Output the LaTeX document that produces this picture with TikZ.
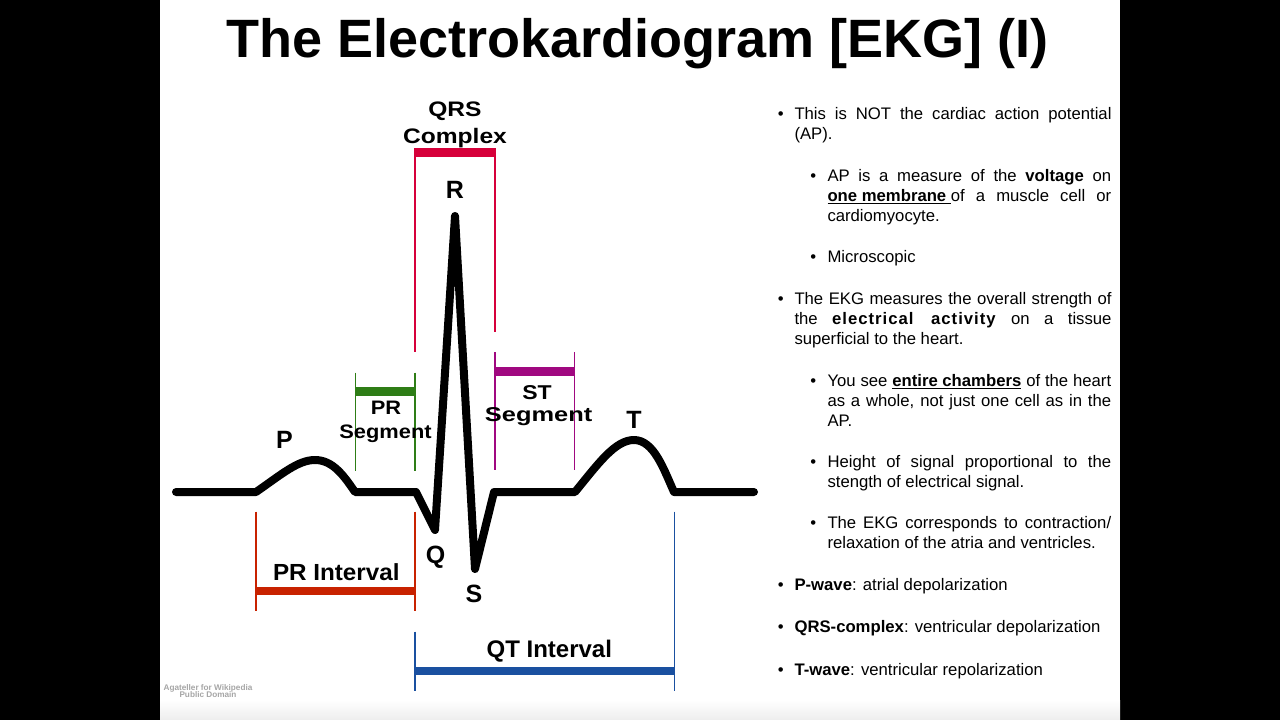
\documentclass[tikz,border=0pt]{standalone}
\usepackage{fontspec}
\setmainfont{Liberation Sans}
\usepackage{graphicx}
\definecolor{qrsred}{HTML}{D6003A}
\definecolor{stpurple}{HTML}{A00880}
\definecolor{prgreen}{HTML}{2E7D16}
\definecolor{prred}{HTML}{C82200}
\definecolor{qtblue}{HTML}{1A50A0}
\newcommand\J[2]{\makebox[#1pt][s]{#2}}
\newcommand\ul[1]{\setbox0\hbox{#1}\rlap{\rule[-2.6pt]{\wd0}{1.3pt}}\box0\relax}
\newcommand\sx[2]{\scalebox{#1}[1]{#2}}
\begin{document}
\begin{tikzpicture}[x=1pt,y=-1pt,
  ecg/.style={line width=8pt, line cap=round, line join=round},
  barline/.style={line width=8.5pt},
  tickline/.style={line width=1.3pt},
  lbl/.style={anchor=base, inner sep=0pt},
  txt/.style={anchor=base west, inner sep=0pt, font=\fontsize{16.7}{20}\selectfont},
  bul/.style={anchor=base, inner sep=0pt, font=\fontsize{16.7}{20}\selectfont},
]
\useasboundingbox (0,0) rectangle (1280,720);
\fill[black] (0,0) rectangle (1280,720);
\fill[white] (160,0) rectangle (1120,720);
\shade[top color=white, bottom color=black!7] (160,700) rectangle (1120,720);

% title
\node[lbl, font=\fontsize{54}{54}\selectfont\bfseries] (title) at (637.7,57) {The Electrokardiogram [EKG] (I)};

% ---- interval / segment markers
% QRS complex
\draw[tickline, qrsred] (415,148) coordinate (qa) -- (415,352) coordinate (qb);
\draw[tickline, qrsred] (495,148) coordinate (qc) -- (495,332) coordinate (qd);
\draw[barline, qrsred] (415,152.7) -- (495,152.7);
% PR segment
\draw[tickline, prgreen] (355.5,372.7) -- (355.5,470.7);
\draw[tickline, prgreen] (415,372.7) -- (415,470.7);
\draw[barline, prgreen] (355.5,391.7) -- (415,391.7);
% ST segment
\draw[tickline, stpurple] (495,352) -- (495,470);
\draw[tickline, stpurple] (574.5,352) -- (574.5,470);
\draw[barline, stpurple] (495,371.7) -- (574.5,371.7);
% PR interval
\draw[tickline, prred] (256,511.7) -- (256,611);
\draw[tickline, prred] (415,511.7) -- (415,611);
\draw[barline, prred] (256,591) -- (415,591);
% QT interval
\draw[tickline, qtblue] (415,631.7) -- (415,691);
\draw[tickline, qtblue] (674.6,511.7) -- (674.6,691);
\draw[barline, qtblue] (415,671) -- (674.6,671);

% ---- ECG trace
\draw[ecg] (176,492) -- (256,492)
  .. controls (282,474) and (298,460) .. (315,460)
  .. controls (333,460) and (344,476) .. (355,492)
  -- (416,492) -- (435,530) -- (455,216) -- (475,569) -- (494,492)
  -- (575,492)
  .. controls (598,464) and (615,440) .. (634,440)
  .. controls (654,440) and (664,470) .. (674,492)
  -- (754,492);

% ---- labels
\node[lbl, font=\fontsize{21}{21}\selectfont\bfseries] (qrs1) at (455,116.7) {\sx{1.17}{QRS}};
\node[lbl, font=\fontsize{21}{21}\selectfont\bfseries] (qrs2) at (455,143) {\sx{1.17}{Complex}};
\node[lbl, font=\fontsize{25}{25}\selectfont\bfseries] (lR) at (455,198) {R};
\node[lbl, font=\fontsize{19.5}{20}\selectfont\bfseries] (prs1) at (386,414) {\sx{1.12}{PR}};
\node[lbl, font=\fontsize{19.5}{20}\selectfont\bfseries] (prs2) at (385.5,438) {\sx{1.12}{Segment}};
\node[lbl, font=\fontsize{20}{20}\selectfont\bfseries] (sts1) at (537,399) {\sx{1.15}{ST}};
\node[lbl, font=\fontsize{20}{20}\selectfont\bfseries] (sts2) at (538.6,421.7) {\sx{1.27}{Segment}};
\node[lbl, font=\fontsize{25}{25}\selectfont\bfseries] (lP) at (284.5,448) {P};
\node[lbl, font=\fontsize{25}{25}\selectfont\bfseries] (lT) at (634,428) {T};
\node[lbl, font=\fontsize{25}{25}\selectfont\bfseries] (lQ) at (435.5,563) {Q};
\node[lbl, font=\fontsize{25}{25}\selectfont\bfseries] (lS) at (474,602.7) {S};
\node[lbl, font=\fontsize{23.3}{24}\selectfont\bfseries] (pri) at (336.3,580) {\sx{1.04}{PR Interval}};
\node[lbl, font=\fontsize{24}{24}\selectfont\bfseries] (qti) at (549.3,657) {QT Interval};

% credit
\node[lbl, font=\fontsize{8.2}{8}\selectfont\bfseries, text=black!35] (cr1) at (208,690) {Agateller for Wikipedia};
\node[lbl, font=\fontsize{8.2}{8}\selectfont\bfseries, text=black!35] (cr2) at (208,697.5) {Public Domain};

% ---- right-hand text
\node[bul] (b1) at (780.7,119) {\textbullet};
\node[txt] (t1a) at (794.3,119) {\J{317}{This is NOT the cardiac action potential}};
\node[txt] (t1b) at (794.3,139.5) {(AP).};

\node[bul] (b2) at (813.3,181.7) {\textbullet};
\node[txt] (t2a) at (827.3,181.7) {\J{283.7}{AP is a measure of the \textbf{voltage} on}};
\node[txt] (t2b) at (827.3,201.7) {\J{283.7}{\ul{\textbf{one membrane\ }}of a muscle cell or}};
\node[txt] (t2c) at (827.3,221.5) {cardiomyocyte.};

\node[bul] (b3) at (813.3,262.7) {\textbullet};
\node[txt] (t3a) at (827.3,262.7) {Microscopic};

\node[bul] (b4) at (780.7,304.3) {\textbullet};
\node[txt] (t4a) at (794.3,304.3) {\J{317}{The EKG measures the overall strength of}};
\node[txt] (t4b) at (794.3,324.3) {\J{317}{the \textbf{\addfontfeature{LetterSpace=6}electrical activity} on a tissue}};
\node[txt] (t4c) at (794.3,344.3) {superficial to the heart.};

\node[bul] (b5) at (813.3,386.5) {\textbullet};
\node[txt] (t5a) at (827.3,386.5) {\J{283.7}{You see \ul{\textbf{entire chambers}} of the heart}};
\node[txt] (t5b) at (827.3,406.7) {\J{283.7}{as a whole, not just one cell as in the}};
\node[txt] (t5c) at (827.3,426.7) {AP.};

\node[bul] (b6) at (813.3,467.3) {\textbullet};
\node[txt] (t6a) at (827.3,467.3) {\J{283.7}{Height of signal proportional to the}};
\node[txt] (t6b) at (827.3,487.3) {stength of electrical signal.};

\node[bul] (b7) at (813.3,528.3) {\textbullet};
\node[txt] (t7a) at (827.3,528.3) {\J{283.7}{The EKG corresponds to contraction/}};
\node[txt] (t7b) at (827.3,548.3) {relaxation of the atria and ventricles.};

\node[bul] (b8) at (780.7,590.7) {\textbullet};
\node[txt] (t8) at (794.3,590.7) {\textbf{P-wave}: atrial depolarization};
\node[bul] (b9) at (780.7,632.7) {\textbullet};
\node[txt] (t9) at (794.3,632.7) {\textbf{QRS-complex}: ventricular depolarization};
\node[bul] (b10) at (780.7,675) {\textbullet};
\node[txt] (t10) at (794.3,675) {\textbf{T-wave}: ventricular repolarization};
\end{tikzpicture}
\end{document}
